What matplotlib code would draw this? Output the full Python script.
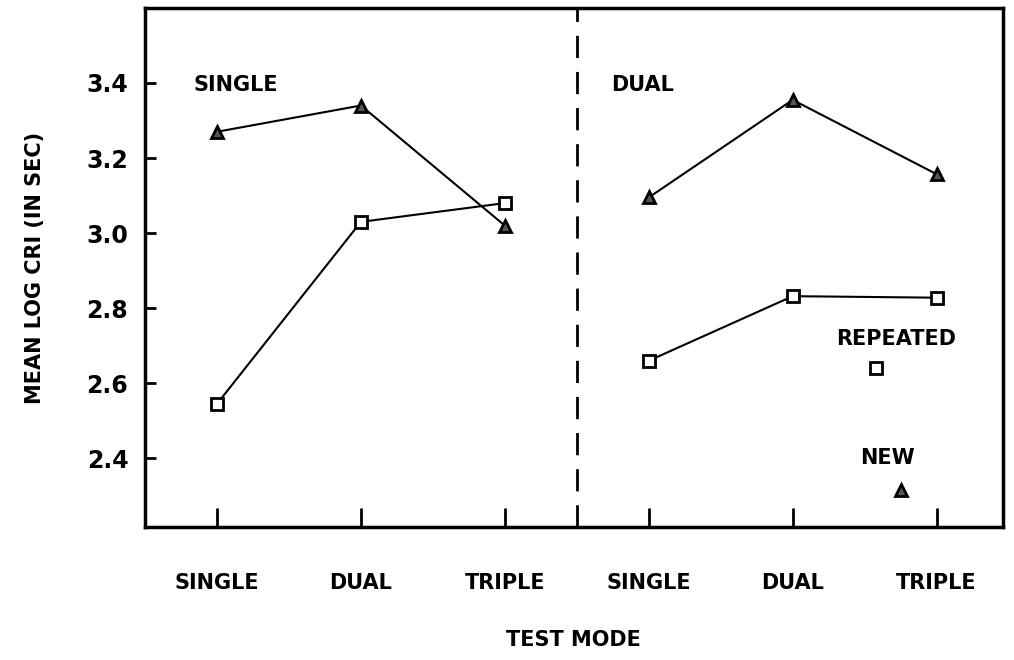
import matplotlib
matplotlib.use('Agg')
import matplotlib.pyplot as plt

plt.rcParams['font.family'] = ['DejaVu Sans']
plt.rcParams['font.weight'] = 'bold'
plt.rcParams['axes.labelweight'] = 'bold'

modes = ['SINGLE', 'DUAL', 'TRIPLE']
# study mode SINGLE (left panel) and DUAL (right panel)
single_new = [3.27, 3.34, 3.02]
single_repeated = [2.545, 3.03, 3.08]
dual_new = [3.095, 3.355, 3.157]
dual_repeated = [2.66, 2.832, 2.828]
yticks = [2.4, 2.6, 2.8, 3.0, 3.2, 3.4]

fig = plt.figure(figsize=(10.14, 6.6), dpi=100)
ax = fig.add_axes([0.143, 0.2015, 0.846, 0.7865])

left_x = [0, 1, 2]
right_x = [3, 4, 5]
sq = dict(marker='s', markersize=8, markerfacecolor='white',
          markeredgecolor='black', markeredgewidth=2, color='black', lw=1.5)
tri = dict(marker='^', markersize=9, markerfacecolor='#555555',
           markeredgecolor='black', markeredgewidth=2, color='black', lw=1.5)

ax.plot(left_x, single_new, **tri)
ax.plot(left_x, single_repeated, **sq)
ax.plot(right_x, dual_new, **tri)
ax.plot(right_x, dual_repeated, **sq)

# key inside the plot
ax.plot([4.58], [2.64], linestyle='none', **{k: v for k, v in sq.items() if k not in ('color', 'lw')})
ax.plot([4.75], [2.316], linestyle='none', **{k: v for k, v in tri.items() if k not in ('color', 'lw')})
ax.text(4.72, 2.718, 'REPEATED', ha='center', va='center', fontsize=15)
ax.text(4.66, 2.4, 'NEW', ha='center', va='center', fontsize=15)

ax.text(-0.16, 3.395, 'SINGLE', ha='left', va='center', fontsize=15)
ax.text(2.74, 3.395, 'DUAL', ha='left', va='center', fontsize=15)

ax.axvline(2.5, color='black', lw=2, linestyle=(0, (8, 5)))

ax.set_xlim(-0.5, 5.46)
ax.set_ylim(2.217, 3.6)
ax.set_xticks(left_x + right_x)
ax.set_xticklabels(modes + modes, fontsize=15)
ax.set_yticks(yticks)
ax.set_yticklabels(['%.1f' % v for v in yticks], fontsize=17)
ax.tick_params(axis='x', direction='in', length=14, width=2, pad=33)
ax.tick_params(axis='y', direction='in', length=8, width=2, pad=12)
for s in ax.spines.values():
    s.set_linewidth(2.5)

ax.set_xlabel('TEST MODE', fontsize=15, labelpad=27)
ax.set_ylabel('MEAN LOG CRI (IN SEC)', fontsize=15, labelpad=30)

fig.savefig('out.png', dpi=100)
